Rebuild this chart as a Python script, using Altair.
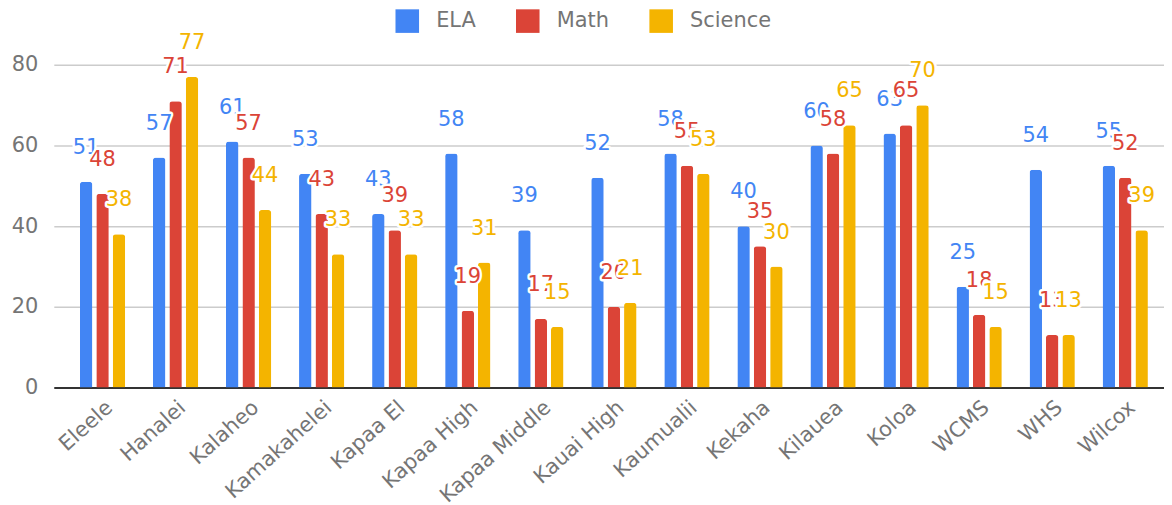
import altair as alt
import pandas as pd

schools = ["Eleele", "Hanalei", "Kalaheo", "Kamakahelei", "Kapaa El", "Kapaa High",
           "Kapaa Middle", "Kauai High", "Kaumualii", "Kekaha", "Kilauea", "Koloa",
           "WCMS", "WHS", "Wilcox"]
subjects = ["ELA", "Math", "Science"]
ela = [51, 57, 61, 53, 43, 58, 39, 52, 58, 40, 60, 63, 25, 54, 55]
math = [48, 71, 57, 43, 39, 19, 17, 20, 55, 35, 58, 65, 18, 13, 52]
science = [38, 77, 44, 33, 33, 31, 15, 21, 53, 30, 65, 70, 15, 13, 39]
colors = ["#4285F4", "#DB4437", "#F4B400"]

rows = []
for subj, vals in zip(subjects, [ela, math, science]):
    for s, v in zip(schools, vals):
        rows.append({"School": s, "Subject": subj, "Value": v})
df = pd.DataFrame(rows)

FONT = "DejaVu Sans"
GRAY = "#757575"
FS = 21

x_enc = alt.X("School:N", sort=schools, title=None,
              scale=alt.Scale(paddingInner=0.38, paddingOuter=0.357),
              axis=alt.Axis(labelAngle=318, labelFontSize=FS, labelColor=GRAY,
                            labelFont=FONT, ticks=False, domainColor="#333333",
                            domainWidth=2, labelPadding=9))
xo_enc = alt.XOffset("Subject:N", sort=subjects,
                     scale=alt.Scale(paddingInner=0.24, paddingOuter=0))
y_enc = alt.Y("Value:Q", title=None,
              scale=alt.Scale(domain=[0, 80], nice=False),
              axis=alt.Axis(values=[0, 20, 40, 60, 80], labelFontSize=FS,
                            labelColor=GRAY, labelFont=FONT, ticks=False,
                            domain=False, gridColor="#cccccc", gridWidth=1.5,
                            labelPadding=16))

base = alt.Chart(df)

bars = base.mark_bar(cornerRadiusTopLeft=3, cornerRadiusTopRight=3).encode(
    x=x_enc, xOffset=xo_enc, y=y_enc,
    color=alt.Color("Subject:N", sort=subjects,
                    scale=alt.Scale(domain=subjects, range=colors),
                    legend=alt.Legend(title=None, orient="none", direction="horizontal",
                                      legendX=343, legendY=-56, symbolType="square",
                                      symbolSize=560, symbolStrokeWidth=0,
                                      labelFontSize=FS, labelColor=GRAY, labelFont=FONT,
                                      labelOffset=17, columnPadding=40, padding=0))
)

layers = [bars]
for subj, col in zip(subjects, colors):
    sub = base.transform_filter(alt.datum.Subject == subj)
    halo = sub.mark_text(dy=-34, baseline="middle", fontSize=FS, font=FONT,
                         stroke="white", strokeWidth=5, fill="white",
                         strokeJoin="round").encode(
        x=x_enc, xOffset=xo_enc, y=y_enc, text="Value:Q")
    txt = sub.mark_text(dy=-34, baseline="middle", fontSize=FS, font=FONT,
                        color=col).encode(
        x=x_enc, xOffset=xo_enc, y=y_enc, text="Value:Q")
    layers += [halo, txt]

chart = alt.layer(*layers).properties(
    width=1125, height=324,
    padding={"left": 3, "top": 0, "right": -10, "bottom": 0}
).configure_view(stroke=None)

chart.save("out.html", embed_options={"renderer": "svg", "actions": False})
